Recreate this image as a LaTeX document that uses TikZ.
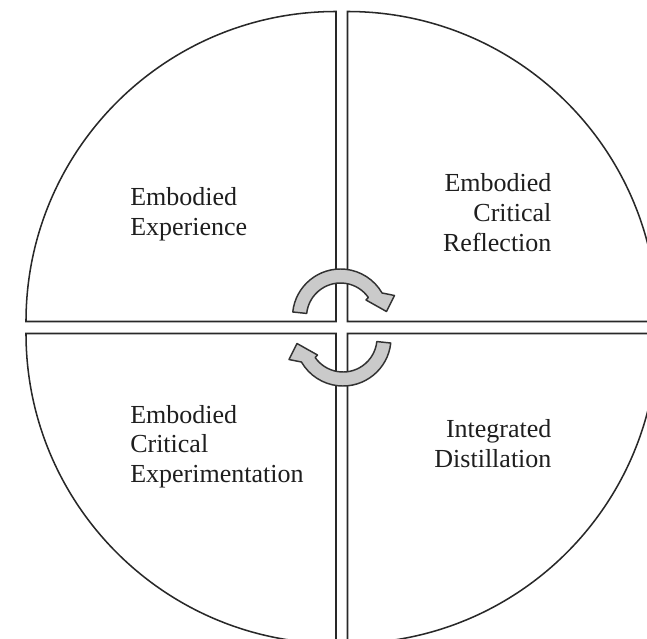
\documentclass[tikz,border=0pt]{standalone}
\usepackage{fontspec}
\setmainfont{Liberation Serif}
\definecolor{quadLine}{RGB}{40, 40, 40}
\definecolor{arrowFill}{RGB}{202, 202, 202}
\definecolor{arrowLine}{RGB}{50, 50, 50}
\definecolor{labelText}{RGB}{30, 30, 30}
\usepackage{tikz}

\begin{document}
\begin{tikzpicture}[x=0.75pt, y=-0.75pt,
    quadrant/.style={draw=quadLine, line width=1.15pt, fill=white},
    cyclearrow/.style={draw=arrowLine, line width=1.1pt, fill=arrowFill, line join=round},
    label/.style={inner sep=0pt, text=labelText, font=\fontsize{19.5}{22.3}\selectfont}]
    \useasboundingbox (0,0) rectangle (647,639);
    \clip (0,0) rectangle (647,639);

    % four quarter discs, pulled apart at the centre
    \draw[quadrant] (336,321.5) -- (26,321.5) arc[start angle=180, end angle=270, radius=310] -- cycle;
    \draw[quadrant] (347.5,321.5) -- (347.5,11.5) arc[start angle=270, end angle=360, radius=310] -- cycle;
    \draw[quadrant] (347.5,333.5) -- (657.5,333.5) arc[start angle=0, end angle=90, radius=310] -- cycle;
    \draw[quadrant] (336,333.5) -- (336,643.5) arc[start angle=90, end angle=180, radius=310] -- cycle;

    % quadrant labels (anchored on the last line)
    \node[label, align=left, anchor=base west] (experience) at (130,235) {Embodied\\Experience};
    \node[label, align=right, anchor=base east] (reflection) at (551.7,251) {Embodied\\Critical\\Reflection};
    \node[label, align=left, anchor=base west] (experimentation) at (130,482.5) {Embodied\\Critical\\Experimentation};
    \node[label, align=right, anchor=base east] (distillation) at (551.7,467.5) {Integrated\\Distillation};

    % the two curved arrows in the middle, the lower one turned half round
    \foreach \turn in {0,180}
        \draw[cyclearrow, rotate around={\turn:(341.75,327.5)}]
            (292.76,311.98) arc[start angle=186, end angle=330, radius=48]
            -- (394.5,295.5) -- (386.5,311.5) -- (366,300) -- (368.35,297.5)
            arc[start angle=325, end angle=186, radius=34] -- cycle;
\end{tikzpicture}
\end{document}
